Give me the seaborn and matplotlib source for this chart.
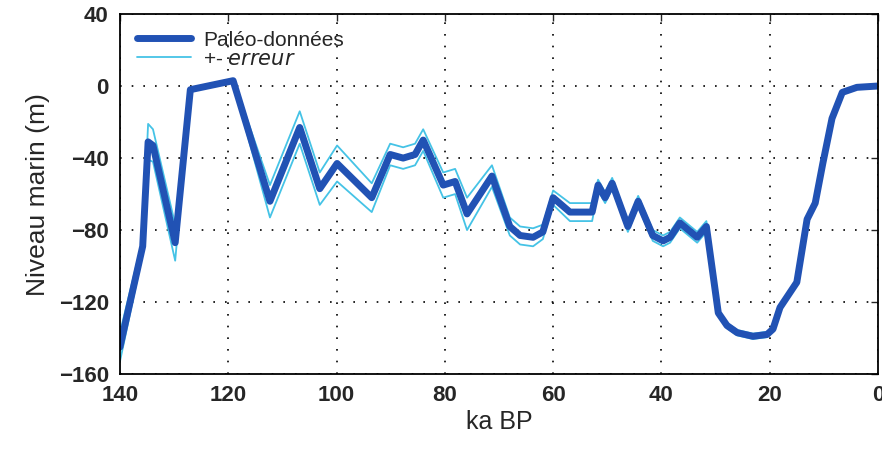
import numpy as np
import pandas as pd
import matplotlib
matplotlib.use("Agg")
import matplotlib.pyplot as plt
import seaborn as sns

# ── Data ────────────────────────────────────────────────
AGE_KA = [140, 135.8, 134.8, 133.9, 129.8, 127.0, 119.1, 112.3, 106.8, 103.1,
          99.9, 93.5, 90.1, 87.7, 85.5, 84.0, 80.3, 78.1, 75.9, 71.3,
          68.0, 66.1, 63.7, 61.9, 60.0, 56.9, 52.8, 51.7, 50.4, 49.1,
          46.2, 44.3, 41.6, 39.7, 38.4, 36.6, 33.4, 31.7, 29.5, 27.9,
          26.0, 23.1, 20.5, 19.4, 18.1, 15.0, 13.1, 11.6, 10.2, 8.5,
          6.6, 3.9, 0.2]
SEA_LEVEL = [-145, -89, -31, -33, -87, -2, 3, -64, -23, -57,
             -43, -62, -38, -40, -38, -30, -55, -53, -71, -50,
             -78, -83, -84, -81, -62, -70, -70, -55, -62, -54,
             -78, -64, -83, -86, -84, -76, -84, -78, -126, -133,
             -137, -139, -138, -135, -123, -109, -74, -65, -43, -18,
             -3.5, -0.7, 0]
ERROR = [8, 4, 10, 9, 10, 1, 1, 9, 9, 9,
         10, 8, 6, 6, 6, 6, 7, 7, 9, 6,
         5, 5, 5, 4, 4, 5, 5, 3, 3, 3,
         3, 3, 3, 3, 3, 3, 3, 3, 1.5, 1.5,
         1.5, 1.5, 1.5, 1, 1, 1, 1, 1, 1, 1,
         1, 0.5, 0.5]
XTICKS = [140, 120, 100, 80, 60, 40, 20, 0]
YTICKS = [-160, -120, -80, -40, 0, 40]

df = pd.DataFrame({"age": AGE_KA, "sl": SEA_LEVEL, "err": ERROR})
df["up"] = df["sl"] + df["err"]
df["lo"] = df["sl"] - df["err"]

sns.set_style("white")
plt.rcParams["font.family"] = ["Liberation Sans", "DejaVu Sans"]

fig = plt.figure(figsize=(8.82, 4.54), dpi=100)
ax = fig.add_axes([0.136, 0.176, 0.8595, 0.793])

main_c = "#2152b4"
err_c = "#45c3e6"

sns.lineplot(data=df, x="age", y="up", ax=ax, color=err_c, lw=1.3,
             label="+- $\\it{erreur}$", sort=False)
sns.lineplot(data=df, x="age", y="lo", ax=ax, color=err_c, lw=1.3,
             label="_nolegend_", sort=False)
sns.lineplot(data=df, x="age", y="sl", ax=ax, color=main_c, lw=5,
             label="Paléo-données", sort=False)

ax.set_xlim(140, 0)
ax.set_ylim(-160, 40)
ax.set_xticks(XTICKS)
ax.set_yticks(YTICKS)
ax.set_xticklabels([str(t) for t in XTICKS], fontsize=16, fontweight="bold")
ax.set_yticklabels([("\u2212" + str(-t)) if t < 0 else str(t) for t in YTICKS],
                   fontsize=16, fontweight="bold")
ax.set_xlabel("ka BP", fontsize=18, labelpad=3)
ax.set_ylabel("Niveau marin (m)", fontsize=19, labelpad=6)

ax.grid(True, color="black", linestyle=(0, (1, 6)), linewidth=1.2)
ax.tick_params(direction="in", length=5, width=1, top=True, right=True, pad=8)
for sp in ax.spines.values():
    sp.set_color("black")
    sp.set_linewidth(1.3)

handles, labels = ax.get_legend_handles_labels()
order = [labels.index("Paléo-données"), labels.index("+- $\\it{erreur}$")]
ax.legend([handles[i] for i in order], [labels[i] for i in order],
          loc="upper left", frameon=False, fontsize=15,
          handlelength=2.6, handletextpad=0.6, labelspacing=0.0,
          borderaxespad=0.4, bbox_to_anchor=(0.0, 1.0))

fig.savefig("out.png", dpi=100)
